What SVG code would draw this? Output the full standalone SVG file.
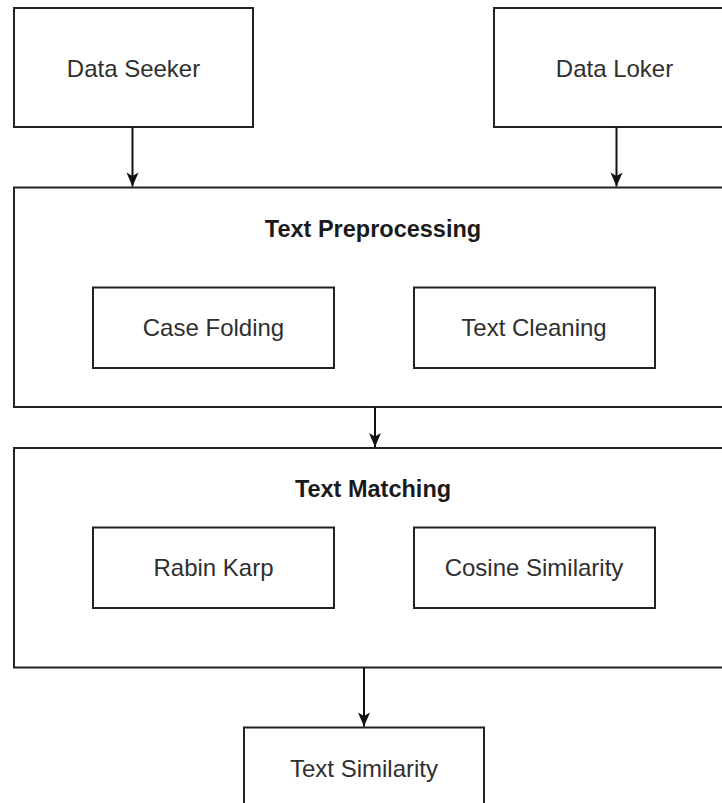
<svg xmlns="http://www.w3.org/2000/svg" width="722" height="803" viewBox="0 0 722 803">
<style>
.box{fill:#ffffff;stroke:#222222;stroke-width:2}
.lbl{font-family:"Liberation Sans",Arial,sans-serif;font-size:24px;fill:#2f2f2f;text-anchor:middle}
.ttl{font-family:"Liberation Sans",Arial,sans-serif;font-size:23.5px;font-weight:bold;fill:#1a1a1a;text-anchor:middle}
.edge{fill:none;stroke:#111111;stroke-width:2}
</style>
<defs>
<marker id="arr" markerUnits="userSpaceOnUse" markerWidth="16" markerHeight="14" refX="15" refY="7" orient="auto">
<path d="M1,1 L15,7 L1,13 L4.5,7 z" fill="#111111"/>
</marker>
</defs>
<rect width="722" height="803" fill="#ffffff"/>
<g id="data-seeker">
<rect class="box" x="14" y="8" width="239" height="119"/>
<text class="lbl" x="133.5" y="76.5">Data Seeker</text>
</g>
<g id="data-loker">
<rect class="box" x="494" y="8" width="240" height="119"/>
<text class="lbl" x="614.5" y="76.5">Data Loker</text>
</g>
<g id="text-preprocessing">
<rect class="box" x="14" y="187.5" width="730" height="219.5"/>
<text class="ttl" x="373" y="236.5">Text Preprocessing</text>
</g>
<g id="case-folding">
<rect class="box" x="93" y="287.5" width="241" height="80.5"/>
<text class="lbl" x="213.5" y="336">Case Folding</text>
</g>
<g id="text-cleaning">
<rect class="box" x="414" y="287.5" width="241" height="80.5"/>
<text class="lbl" x="534" y="336">Text Cleaning</text>
</g>
<g id="text-matching">
<rect class="box" x="14" y="448" width="730" height="219.5"/>
<text class="ttl" x="373" y="497">Text Matching</text>
</g>
<g id="rabin-karp">
<rect class="box" x="93" y="527.5" width="241" height="80.5"/>
<text class="lbl" x="213.5" y="576">Rabin Karp</text>
</g>
<g id="cosine-similarity">
<rect class="box" x="414" y="527.5" width="241" height="80.5"/>
<text class="lbl" x="534" y="576">Cosine Similarity</text>
</g>
<g id="text-similarity">
<rect class="box" x="244" y="727.5" width="240" height="120"/>
<text class="lbl" x="364" y="777">Text Similarity</text>
</g>
<g id="connectors">
<line class="edge" x1="132.5" y1="127" x2="132.5" y2="186.5" marker-end="url(#arr)"/>
<line class="edge" x1="616.5" y1="127" x2="616.5" y2="186.5" marker-end="url(#arr)"/>
<line class="edge" x1="375" y1="407" x2="375" y2="447" marker-end="url(#arr)"/>
<line class="edge" x1="364" y1="667.5" x2="364" y2="726.5" marker-end="url(#arr)"/>
</g>
</svg>
